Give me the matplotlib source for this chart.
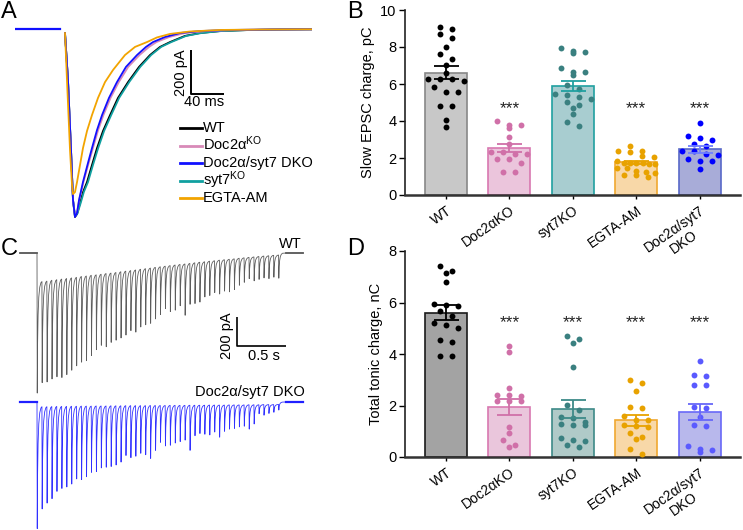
import numpy as np
import matplotlib
matplotlib.use("Agg")
import matplotlib.pyplot as plt
from matplotlib.lines import Line2D

plt.rcParams['font.family'] = ['Liberation Sans', 'DejaVu Sans']
plt.rcParams['mathtext.fontset'] = 'custom'
plt.rcParams['mathtext.rm'] = 'Liberation Sans'
plt.rcParams['mathtext.it'] = 'Liberation Sans:italic'

W, H = 743, 530

# ---------------- Panel A: averaged slow EPSC traces (ms, pA) ----------------
a_pre_t = [0.0, 54.5]
a_pre_i = [0.0, 0.0]
a_wt_t = [60.6, 64.2, 67.9, 70.3, 72.7, 75.2, 78.8, 82.4, 87.3, 93.3, 99.4, 106.7, 115.2,
          124.8, 137.0, 150.3, 163.6, 175.8, 187.9, 206, 224, 248.5, 284.8, 321, 360]
a_wt_i = [-17, -230, -550, -776, -853, -840, -790, -740, -694, -617, -540, -462, -390,
          -312, -240, -171, -117, -80, -58, -30, -17, -8, -3, -1, 0]
a_syt7_t = [60.6, 64.2, 67.9, 70.3, 72.7, 75.6, 79.6, 83.4, 88.5, 94.5, 100.8, 108.0, 116.6,
            126.2, 138.4, 151.8, 165.0, 177.2, 189.5, 207.5, 226, 250, 286, 322, 360]
a_syt7_i = [-17, -230, -550, -776, -850, -838, -790, -740, -694, -617, -540, -462, -390,
            -312, -240, -171, -117, -80, -58, -30, -17, -8, -3, -1, 0]
a_doc2a_t = [60.6, 64.2, 67.9, 70.3, 72.7, 75.2, 77.8, 83.0, 89.4, 94.5, 100.8, 107.2, 115.8,
             125.8, 137.2, 151.0, 162.5, 171.5, 187.0, 206, 232, 268, 312, 360]
a_doc2a_i = [-17, -230, -550, -776, -848, -832, -776, -694, -607, -540, -458, -390, -312,
             -240, -171, -117, -80, -58, -35, -17, -8, -3, -1, 0]
a_dko_t = [60.6, 64.2, 67.9, 70.3, 72.7, 75.2, 77.6, 82.4, 88.5, 93.3, 99.4, 105.5, 113.9,
           123.6, 134.5, 147.9, 158.8, 167.3, 181.8, 200, 224, 260.6, 309, 360]
a_dko_i = [-17, -230, -550, -776, -853, -835, -776, -694, -607, -540, -458, -390, -312,
           -240, -171, -117, -80, -58, -35, -17, -8, -3, -1, 0]
a_egta_t = [60.6, 63.0, 66.7, 69.1, 70.3, 72.7, 75.2, 78.8, 82.4, 87.3, 93.3, 100.6, 109.1,
            118.8, 133.3, 145.5, 160, 172.1, 187.9, 212, 248.5, 297, 360]
a_egta_i = [-17, -230, -550, -707, -749, -740, -694, -617, -540, -462, -390, -312, -240,
            -185, -117, -80, -58, -37, -21, -10, -3, -1, 0]
a_labels = ["WT", "Doc2α$^{\\mathrm{KO}}$", "Doc2α/syt7 DKO", "syt7$^{\\mathrm{KO}}$", "EGTA-AM"]

# ---------------- Panel C: 20 Hz train (50 pulses), per-pulse peak and pre-pulse level (pA) ----------------
c_wt_peak = [-956, -885, -880, -860, -845, -850, -830, -800, -770, -745,
             -735, -700, -660, -630, -640, -610, -595, -580, -560, -530,
             -540, -505, -490, -480, -450, -420, -380, -400, -390, -360,
             -425, -350, -345, -335, -300, -290, -270, -280, -260, -265,
             -250, -220, -200, -175, -190, -180, -170, -175, -165, -172]
c_wt_level = [0, -195, -192, -186, -182, -178, -174, -170, -166, -160,
              -157, -152, -149, -145, -140, -137, -133, -128, -124, -120,
              -116, -111, -107, -103, -98, -94, -90, -86, -82, -78,
              -75, -71, -67, -63, -60, -56, -53, -49, -46, -43,
              -40, -36, -33, -30, -27, -24, -21, -19, -16, -14]
c_dko_peak = [-864, -730, -690, -660, -610, -590, -580, -560, -525, -530,
              -510, -480, -475, -450, -445, -440, -430, -410, -365, -380,
              -370, -350, -360, -385, -330, -275, -300, -295, -280, -270,
              -260, -330, -230, -215, -220, -225, -205, -240, -200, -185,
              -180, -170, -165, -185, -150, -80, -90, -78, -70, -55]
c_dko_level = [0, -32, -32, -31, -30, -30, -30, -29, -29, -28,
               -28, -28, -27, -27, -27, -26, -26, -26, -25, -25,
               -25, -25, -25, -24, -24, -24, -24, -23, -23, -23,
               -23, -22, -22, -22, -22, -21, -21, -21, -21, -20,
               -20, -20, -20, -19, -19, -19, -18, -18, -18, -17]

# ---------------- Panels B and D: group data ----------------
groups = ["WT", "Doc2αKO", "syt7KO", "EGTA-AM", "Doc2α/syt7\nDKO"]

b_wt = [8.95, 8.50, 8.68, 9.10, 8.0, 7.62, 7.33, 7.03, 6.61, 6.27, 6.27, 6.27, 6.16,
        5.58, 5.58, 5.82, 4.81, 4.81, 4.05, 3.69]
b_doc2a = [3.80, 4.02, 3.80, 3.60, 3.15, 2.76, 2.30, 2.22, 2.22, 2.30, 1.95, 1.75, 1.95, 1.24, 1.26]
b_syt7 = [7.80, 7.65, 7.75, 7.95, 6.67, 6.85, 6.50, 6.67, 5.95, 5.71, 5.41, 5.19, 5.45,
          5.04, 4.86, 4.72, 4.38, 3.96, 3.73, 5.30]
b_egta = [2.67, 2.40, 2.36, 2.34, 2.07, 2.11, 1.85, 1.73, 1.66, 1.73, 1.73, 1.66, 1.73,
          1.48, 1.48, 1.19, 1.28, 1.23, 1.10, 1.07, 0.99]
b_dko = [3.91, 3.20, 3.00, 3.10, 2.73, 2.67, 2.40, 2.40, 2.22, 2.15, 1.96, 1.82, 1.82, 1.43]
b_mean = [6.61, 2.56, 5.89, 1.78, 2.47]
b_sem = [0.34, 0.22, 0.27, 0.08, 0.19]
b_sig = ["", "***", "", "***", "***"]

d_wt = [7.43, 7.16, 7.22, 6.79, 5.88, 5.91, 5.95, 5.66, 5.47, 5.14, 5.21, 5.01, 4.47, 4.56, 3.91, 3.91]
d_doc2a = [4.30, 4.06, 2.68, 2.39, 2.35, 2.41, 2.16, 2.16, 2.16, 1.18, 0.95, 0.66, 0.40, 0.47]
d_syt7 = [4.69, 4.58, 4.43, 3.49, 2.03, 1.84, 1.55, 1.50, 1.35, 1.30, 1.25, 1.23, 0.72, 0.67,
          0.64, 0.45, 0.40]
d_egta = [3.00, 2.87, 2.57, 1.96, 1.90, 1.43, 1.42, 1.59, 1.22, 1.18, 1.25, 0.95, 0.79, 0.69, 0.30, 0.10]
d_dko = [3.74, 3.13, 3.17, 2.79, 2.80, 1.91, 1.96, 1.56, 1.22, 1.25, 0.41, 0.31, 0.28, 0.18]
d_mean = [5.61, 1.95, 1.86, 1.42, 1.75]
d_sem = [0.29, 0.32, 0.36, 0.23, 0.32]
d_sig = ["", "***", "***", "***", "***"]

# ---------------- styles ----------------
trace_cols = {"WT": "#000000", "doc2a": "#d88ab8", "dko": "#1010ff", "syt7": "#10a0a0", "egta": "#f2a400"}
b_fill = ["#c8c8c8", "#ebc5dc", "#a8cdd0", "#f8d8a8", "#a8acd8"]
b_edge = ["#888888", "#d878b0", "#20a0a0", "#f0a830", "#5868c8"]
b_dot = ["#000000", "#d070a8", "#3a8080", "#e8a200", "#0000ff"]
b_err = ["#000000", "#d070a8", "#20a0a0", "#e8a200", "#7080ff"]
d_fill = ["#a3a3a3", "#eac6dc", "#b0cac8", "#f8d8a8", "#b8b8ec"]
d_edge = ["#1a1a1a", "#d878b0", "#3d8a88", "#f0a830", "#6868f8"]
d_dot = ["#000000", "#d070a8", "#3a8080", "#e8a200", "#5a5aff"]
d_err = ["#000000", "#d070a8", "#3d8a88", "#e8a200", "#6868f8"]

fig = plt.figure(figsize=(W / 100, H / 100), dpi=100)


def ax_px(l, t, r, b):
    return fig.add_axes([l / W, 1 - b / H, (r - l) / W, (b - t) / H])


def ptext(x, y, s, **kw):
    fig.text(x / W, 1 - y / H, s, **kw)


def pline(xs, ys, **kw):
    fig.add_artist(Line2D([x / W for x in xs], [1 - y / H for y in ys],
                          transform=fig.transFigure, **kw))


# ---------------- Panel A ----------------
axA = ax_px(15, 15, 312, 230)
axA.set_xlim(0, 360)
axA.set_ylim(-(230 - 29.3) * 200 / 44, (29.3 - 15) * 200 / 44)
axA.axis('off')
lwA = 1.3
axA.plot(a_wt_t, a_wt_i, color=trace_cols["WT"], lw=lwA)
axA.plot(a_syt7_t, a_syt7_i, color=trace_cols["syt7"], lw=lwA)
axA.plot(a_doc2a_t, a_doc2a_i, color=trace_cols["doc2a"], lw=lwA)
axA.plot(a_dko_t, a_dko_i, color=trace_cols["dko"], lw=lwA)
axA.plot(a_egta_t, a_egta_i, color=trace_cols["egta"], lw=lwA)
axA.plot(a_pre_t, a_pre_i, color=trace_cols["dko"], lw=1.6)
# scale bar 200 pA / 40 ms
sx, sy = 213.3, -295.0
axA.plot([sx, sx, sx + 40], [sy + 200, sy, sy], color='black', lw=1.4, solid_capstyle='butt')
ptext(181.5, 72.5, "200 pA", rotation=90, ha='center', va='center', fontsize=10.5)
ptext(204, 102.5, "40 ms", ha='center', va='center', fontsize=10.5)
leg_cols = [trace_cols["WT"], trace_cols["doc2a"], trace_cols["dko"], trace_cols["syt7"], trace_cols["egta"]]
leg_y = [128, 145.5, 163, 180.5, 198]
for lab, c, yy in zip(a_labels, leg_cols, leg_y):
    pline([180, 202], [yy, yy], color=c, lw=2.0)
    ptext(203, yy + 4.5, lab, ha='left', va='baseline', fontsize=10.5)

# ---------------- Panel C ----------------
def build_train(levels, peaks, t_pre=-0.172, t_end=2.70, isi=0.05):
    ts = [t_pre, 0.0]
    ys = [0.0, 0.0]
    rec_dt = [0.006, 0.011, 0.018, 0.028, 0.040]
    rec_fr = [0.55, 0.30, 0.14, 0.05, 0.01]
    n = len(peaks)
    for i in range(n):
        ti = i * isi
        L = levels[i]
        P = peaks[i]
        Ln = levels[i + 1] if i + 1 < n else 0.0
        ts += [ti, ti + 0.0025]
        ys += [L, P]
        for dt, fr in zip(rec_dt, rec_fr):
            ts.append(ti + dt)
            ys.append(Ln + fr * (P - Ln))
    ts += [n * isi + 0.03, t_end]
    ys += [0.0, 0.0]
    return np.array(ts), np.array(ys)


axC = ax_px(15, 235, 315, 530)
pxs = 98.6      # px per second
pxa = 0.1465    # px per pA
axC.set_xlim((15 - 37) / pxs, (315 - 37) / pxs)
axC.set_ylim(-(530 - 253) / pxa, (253 - 235) / pxa)
axC.axis('off')
tw, yw = build_train(c_wt_level, c_wt_peak)
axC.plot(tw, yw, color='#5c5c5c', lw=0.6)
axC.plot(tw[:2], yw[:2], color='#5c5c5c', lw=1.3)
axC.plot(tw[-2:], yw[-2:], color='#5c5c5c', lw=1.3)
dko_offset = -(402 - 253) / pxa
td, yd = build_train(c_dko_level, c_dko_peak)
axC.plot(td, yd + dko_offset, color='#3030ff', lw=0.6)
axC.plot(td[:2], yd[:2] + dko_offset, color='#2020ff', lw=1.6)
axC.plot(td[-2:], yd[-2:] + dko_offset, color='#2020ff', lw=1.6)
# scale bar 200 pA / 0.5 s
cx, cy = (236.7 - 37) / pxs, -(346 - 253) / pxa
axC.plot([cx, cx, cx + 0.5], [cy + 200, cy, cy], color='black', lw=1.2, solid_capstyle='butt')
ptext(226.5, 335.5, "200 pA", rotation=90, ha='center', va='center', fontsize=10.5)
ptext(263.5, 356.5, "0.5 s", ha='center', va='center', fontsize=10.5)
ptext(302, 248, "WT", ha='right', va='baseline', fontsize=10.5)
ptext(305, 396, "Doc2α/syt7 DKO", ha='right', va='baseline', fontsize=10.5)


# ---------------- bar panels ----------------
def swarm(vals, ppx, ppy, row_px=5.5, sp=12.0, half=19.0):
    """Row-wise symmetric spreading of dots (scatter-dot-plot style)."""
    vals = np.asarray(vals, dtype=float)
    order = list(np.argsort(-vals))
    offs = np.zeros(len(vals))
    rows = []
    cur = []
    for idx in order:
        if cur and (vals[cur[0]] - vals[idx]) * ppy > row_px:
            rows.append(cur)
            cur = []
        cur.append(idx)
    if cur:
        rows.append(cur)
    for r in rows:
        n = len(r)
        if n == 1:
            continue
        step = min(sp, 2 * half / (n - 1))
        for k, idx in enumerate(r):
            offs[idx] = (k - (n - 1) / 2) * step / ppx
    return offs


def bar_panel(ax, data, means, sems, sig, fill, edge, dot, err, ymax, ppy, sig_y):
    ppx = 63.4
    xs = np.arange(len(groups))
    ax.bar(xs, means, width=0.66, color=fill, edgecolor=edge, linewidth=1.2, zorder=1)
    for i, vals in enumerate(data):
        offs = swarm(vals, ppx, ppy)
        ax.scatter(xs[i] + offs, vals, s=18, color=dot[i], linewidths=0, zorder=3)
        ax.errorbar(xs[i], means[i], yerr=sems[i], fmt='none', ecolor=err[i],
                    elinewidth=1.3, capsize=9, capthick=1.3, zorder=4)
        if sig[i]:
            ax.text(xs[i], sig_y, sig[i], ha='center', va='baseline', fontsize=12.5, color='#222222')
    ax.set_xlim(-0.647, 4.637)
    ax.set_ylim(0, ymax)
    ax.set_yticks(np.arange(0, ymax + 0.1, 2))
    ax.set_xticks(xs)
    ax.set_xticklabels(groups, rotation=35, ha='right', rotation_mode='anchor',
                       multialignment='center', fontsize=10)
    ax.tick_params(axis='y', direction='out', length=4, width=1, labelsize=10.5, pad=2)
    ax.tick_params(axis='x', direction='out', length=3, width=1, pad=3)
    for s in ['top', 'right']:
        ax.spines[s].set_visible(False)
    ax.spines['left'].set_linewidth(1.2)
    ax.spines['left'].set_color('#222222')
    ax.spines['bottom'].set_linewidth(1.8)
    ax.spines['bottom'].set_color('#333333')
    ax.patch.set_alpha(0)


axB = ax_px(405, 10, 740, 195)
bar_panel(axB, [b_wt, b_doc2a, b_syt7, b_egta, b_dko], b_mean, b_sem, b_sig,
          b_fill, b_edge, b_dot, b_err, 10, 18.5, 4.45)
axB.set_ylabel("Slow EPSC charge, pC", fontsize=10.5, labelpad=4)

axD = ax_px(405, 251, 740, 457)
bar_panel(axD, [d_wt, d_doc2a, d_syt7, d_egta, d_dko], d_mean, d_sem, d_sig,
          d_fill, d_edge, d_dot, d_err, 8, 25.67, 5.03)
axD.set_ylabel("Total tonic charge, nC", fontsize=10.5, labelpad=4)

# ---------------- panel letters ----------------
for lab, x, y in [("A", 0.5, 0.5), ("B", 347, 0.5), ("C", 0.5, 238), ("D", 347, 238)]:
    ptext(x, y, lab, ha='left', va='top', fontsize=17)

fig.savefig("out.png", dpi=100)
